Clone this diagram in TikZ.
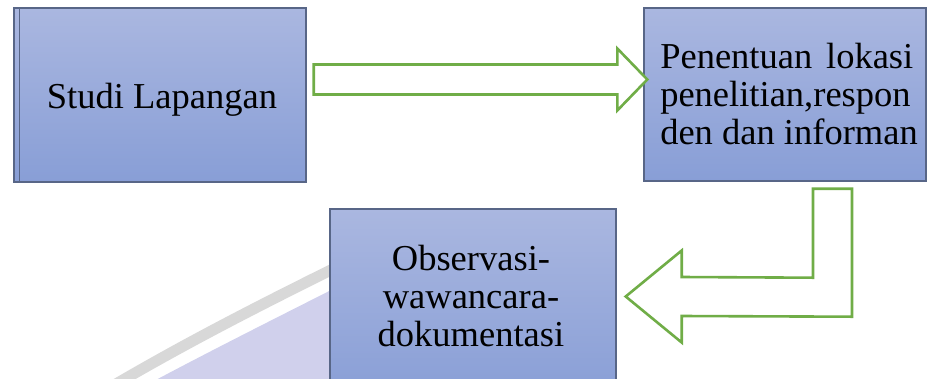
\documentclass[tikz,border=0pt]{standalone}
\usepackage{fontspec}
\setmainfont{Liberation Serif}
\usetikzlibrary{calc}
\definecolor{boxtop}{RGB}{170,183,224}
\definecolor{boxbot}{RGB}{136,158,214}
\definecolor{boxline}{RGB}{88,102,135}
\definecolor{arrowgreen}{RGB}{112,173,71}
\definecolor{wmgray}{RGB}{216,216,216}
\definecolor{wmlav}{RGB}{208,208,236}
\tikzset{
  flowbox/.style={draw=boxline, line width=1.4pt, top color=boxtop, bottom color=boxbot, inner sep=0pt},
  lbl/.style={font=\fontsize{36.5}{38}\selectfont, inner sep=0pt, anchor=base},
  blockarrow/.style={draw=arrowgreen, line width=2.6pt, fill=white, line join=miter}
}
\begin{document}
\begin{tikzpicture}[x=1pt,y=-1pt]
\useasboundingbox (0,0) rectangle (928,378);
% watermark
\draw[wmgray, line width=11pt] (116,384) .. controls (188,342) and (258,306) .. (345,263);
\fill[wmlav] (152,382) .. controls (214,349) and (274,319) .. (345,283) -- (345,382) -- cycle;
% boxes
\node[flowbox, minimum width=292pt, minimum height=174pt] (b1) at (160,95) {};
\draw[boxline, line width=1.2pt] ([xshift=6pt]b1.north west) -- ([xshift=6pt]b1.south west);
\node[flowbox, minimum width=282pt, minimum height=173pt] (b2) at (785,94.5) {};
\node[flowbox, minimum width=286pt, minimum height=191pt] (b3) at (473,304.5) {};
% texts
\node[lbl] (t1) at (162,108) {Studi Lapangan};
\node[lbl] (t2) at (789,68) {\begin{tabular}[t]{@{}l@{}}\makebox[253pt][s]{Penentuan lokasi}\\penelitian,respon\\den dan informan\end{tabular}};
\node[lbl] (t3) at (471,270) {\begin{tabular}[t]{@{}c@{}}Observasi-\\wawancara-\\dokumentasi\end{tabular}};
% arrow 1 : b1 -> b2
\coordinate (a1s) at ([xshift=7pt]b1.east |- 0,79.5);
\coordinate (a1e) at ([xshift=4pt]b2.west |- 0,79.5);
\draw[blockarrow] ($(a1s)+(0,-15)$) -- ($(a1e)+(-30,-15)$) -- ($(a1e)+(-30,-31)$) -- (a1e)
  -- ($(a1e)+(-30,31)$) -- ($(a1e)+(-30,15)$) -- ($(a1s)+(0,15)$) -- cycle;
% arrow 2 : b2 -> b3 (bent)
\coordinate (a2s) at ([yshift=-7pt]b2.south -| 832.5,0);
\coordinate (a2e) at ([xshift=9pt]b3.east |- 0,296.5);
\draw[blockarrow] ($(a2s)+(-19.5,0)$) -- ($(a2s)+(19.5,0)$) -- ($(a2s)+(19.5,128)$)
  -- ($(a2e)+(56,19.5)$) -- ($(a2e)+(56,46)$) -- (a2e) -- ($(a2e)+(56,-46)$)
  -- ($(a2e)+(56,-19.5)$) -- ($(a2s)+(-19.5,89)$) -- cycle;
\end{tikzpicture}
\end{document}
